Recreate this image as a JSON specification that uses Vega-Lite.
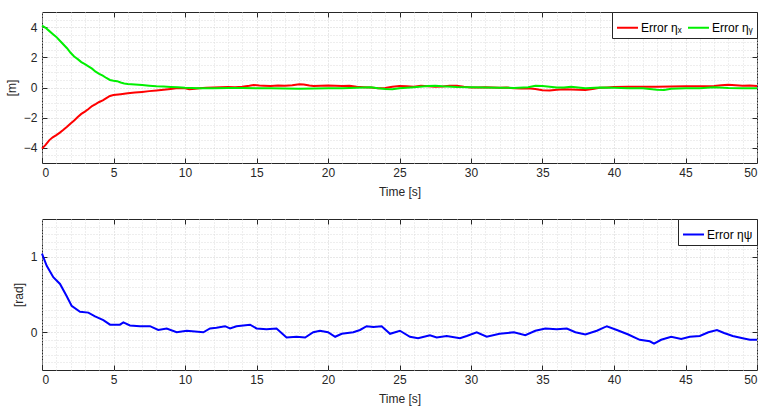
{
  "$schema": "https://vega.github.io/schema/vega-lite/v6.json",
  "background": "white",
  "padding": {"left": 4, "top": 11, "right": 7, "bottom": 5},
  "config": {
    "font": "Liberation Sans",
    "view": {"stroke": "#262626", "strokeWidth": 1},
    "axis": {"labelFont": "Liberation Sans", "labelFontSize": 12, "labelColor": "#262626", "titleFont": "Liberation Sans", "titleFontSize": 12, "titleFontWeight": "normal", "titleColor": "#262626", "domainColor": "#262626", "tickColor": "#262626"},
    "legend": {"orient": "top-right", "offset": 0, "direction": "horizontal", "fillColor": "white", "strokeColor": "#262626", "padding": 4, "symbolType": "stroke", "symbolStrokeWidth": 2, "symbolSize": 440, "labelFont": "Liberation Sans", "labelFontSize": 12, "labelColor": "#000000", "labelOffset": 2, "columnPadding": 2, "cornerRadius": 0, "title": null},
    "concat": {"spacing": 20}
  },
  "datasets": {
    "xy": [
      {"t":0,"s":"Error ηₓ","v":-4.05},{"t":0.25,"s":"Error ηₓ","v":-3.8},{"t":0.5,"s":"Error ηₓ","v":-3.5},{"t":0.75,"s":"Error ηₓ","v":-3.3},{"t":1,"s":"Error ηₓ","v":-3.15},{"t":1.25,"s":"Error ηₓ","v":-2.99},{"t":1.5,"s":"Error ηₓ","v":-2.8},{"t":1.75,"s":"Error ηₓ","v":-2.6},{"t":2,"s":"Error ηₓ","v":-2.38},{"t":2.25,"s":"Error ηₓ","v":-2.18},{"t":2.5,"s":"Error ηₓ","v":-1.95},{"t":2.75,"s":"Error ηₓ","v":-1.75},{"t":3,"s":"Error ηₓ","v":-1.6},{"t":3.25,"s":"Error ηₓ","v":-1.42},{"t":3.5,"s":"Error ηₓ","v":-1.23},{"t":3.75,"s":"Error ηₓ","v":-1.1},{"t":4,"s":"Error ηₓ","v":-0.96},{"t":4.25,"s":"Error ηₓ","v":-0.85},{"t":4.5,"s":"Error ηₓ","v":-0.7},{"t":4.75,"s":"Error ηₓ","v":-0.56},{"t":5,"s":"Error ηₓ","v":-0.5},{"t":5.5,"s":"Error ηₓ","v":-0.44},{"t":6,"s":"Error ηₓ","v":-0.38},{"t":6.5,"s":"Error ηₓ","v":-0.33},{"t":7,"s":"Error ηₓ","v":-0.29},{"t":7.5,"s":"Error ηₓ","v":-0.24},{"t":8,"s":"Error ηₓ","v":-0.2},{"t":8.5,"s":"Error ηₓ","v":-0.15},{"t":9,"s":"Error ηₓ","v":-0.1},{"t":9.5,"s":"Error ηₓ","v":-0.04},{"t":10,"s":"Error ηₓ","v":-0.05},{"t":10.3,"s":"Error ηₓ","v":-0.12},{"t":10.7,"s":"Error ηₓ","v":-0.08},{"t":11,"s":"Error ηₓ","v":-0.05},{"t":11.5,"s":"Error ηₓ","v":-0.02},{"t":12,"s":"Error ηₓ","v":0},{"t":12.5,"s":"Error ηₓ","v":0.02},{"t":13,"s":"Error ηₓ","v":0.03},{"t":13.5,"s":"Error ηₓ","v":0.02},{"t":14,"s":"Error ηₓ","v":0.05},{"t":14.5,"s":"Error ηₓ","v":0.12},{"t":14.8,"s":"Error ηₓ","v":0.17},{"t":15.2,"s":"Error ηₓ","v":0.13},{"t":15.5,"s":"Error ηₓ","v":0.12},{"t":16,"s":"Error ηₓ","v":0.1},{"t":16.5,"s":"Error ηₓ","v":0.13},{"t":17,"s":"Error ηₓ","v":0.12},{"t":17.5,"s":"Error ηₓ","v":0.15},{"t":18,"s":"Error ηₓ","v":0.22},{"t":18.3,"s":"Error ηₓ","v":0.2},{"t":18.7,"s":"Error ηₓ","v":0.13},{"t":19,"s":"Error ηₓ","v":0.1},{"t":19.5,"s":"Error ηₓ","v":0.12},{"t":20,"s":"Error ηₓ","v":0.14},{"t":20.5,"s":"Error ηₓ","v":0.12},{"t":21,"s":"Error ηₓ","v":0.1},{"t":21.5,"s":"Error ηₓ","v":0.11},{"t":22,"s":"Error ηₓ","v":0.05},{"t":22.5,"s":"Error ηₓ","v":0.02},{"t":23,"s":"Error ηₓ","v":0},{"t":23.5,"s":"Error ηₓ","v":-0.05},{"t":24,"s":"Error ηₓ","v":-0.04},{"t":24.5,"s":"Error ηₓ","v":0.05},{"t":25,"s":"Error ηₓ","v":0.1},{"t":25.5,"s":"Error ηₓ","v":0.08},{"t":26,"s":"Error ηₓ","v":0.05},{"t":26.5,"s":"Error ηₓ","v":0.12},{"t":27,"s":"Error ηₓ","v":0.08},{"t":27.5,"s":"Error ηₓ","v":0.05},{"t":28,"s":"Error ηₓ","v":0.06},{"t":28.5,"s":"Error ηₓ","v":0.12},{"t":29,"s":"Error ηₓ","v":0.12},{"t":29.5,"s":"Error ηₓ","v":0.05},{"t":30,"s":"Error ηₓ","v":0},{"t":30.5,"s":"Error ηₓ","v":0},{"t":31,"s":"Error ηₓ","v":0.02},{"t":31.5,"s":"Error ηₓ","v":0},{"t":32,"s":"Error ηₓ","v":-0.02},{"t":32.5,"s":"Error ηₓ","v":0},{"t":33,"s":"Error ηₓ","v":-0.05},{"t":33.5,"s":"Error ηₓ","v":-0.06},{"t":34,"s":"Error ηₓ","v":-0.05},{"t":34.5,"s":"Error ηₓ","v":-0.1},{"t":35,"s":"Error ηₓ","v":-0.18},{"t":35.5,"s":"Error ηₓ","v":-0.2},{"t":36,"s":"Error ηₓ","v":-0.15},{"t":36.5,"s":"Error ηₓ","v":-0.12},{"t":37,"s":"Error ηₓ","v":-0.14},{"t":37.5,"s":"Error ηₓ","v":-0.15},{"t":38,"s":"Error ηₓ","v":-0.17},{"t":38.5,"s":"Error ηₓ","v":-0.1},{"t":39,"s":"Error ηₓ","v":-0.02},{"t":39.5,"s":"Error ηₓ","v":0},{"t":40,"s":"Error ηₓ","v":0.03},{"t":41,"s":"Error ηₓ","v":0.05},{"t":42,"s":"Error ηₓ","v":0.05},{"t":43,"s":"Error ηₓ","v":0.05},{"t":44,"s":"Error ηₓ","v":0.06},{"t":45,"s":"Error ηₓ","v":0.08},{"t":46,"s":"Error ηₓ","v":0.08},{"t":47,"s":"Error ηₓ","v":0.1},{"t":47.5,"s":"Error ηₓ","v":0.15},{"t":48,"s":"Error ηₓ","v":0.18},{"t":48.5,"s":"Error ηₓ","v":0.15},{"t":49,"s":"Error ηₓ","v":0.12},{"t":49.5,"s":"Error ηₓ","v":0.14},{"t":50,"s":"Error ηₓ","v":0.1},
      {"t":0,"s":"Error ηᵧ","v":4.1},{"t":0.25,"s":"Error ηᵧ","v":3.95},{"t":0.5,"s":"Error ηᵧ","v":3.75},{"t":0.75,"s":"Error ηᵧ","v":3.55},{"t":1,"s":"Error ηᵧ","v":3.35},{"t":1.25,"s":"Error ηᵧ","v":3.1},{"t":1.5,"s":"Error ηᵧ","v":2.85},{"t":1.75,"s":"Error ηᵧ","v":2.6},{"t":2,"s":"Error ηᵧ","v":2.3},{"t":2.25,"s":"Error ηᵧ","v":2.05},{"t":2.5,"s":"Error ηᵧ","v":1.88},{"t":2.75,"s":"Error ηᵧ","v":1.68},{"t":3,"s":"Error ηᵧ","v":1.55},{"t":3.25,"s":"Error ηᵧ","v":1.4},{"t":3.5,"s":"Error ηᵧ","v":1.25},{"t":3.75,"s":"Error ηᵧ","v":1.05},{"t":4,"s":"Error ηᵧ","v":0.9},{"t":4.25,"s":"Error ηᵧ","v":0.78},{"t":4.5,"s":"Error ηᵧ","v":0.63},{"t":4.75,"s":"Error ηᵧ","v":0.5},{"t":5,"s":"Error ηᵧ","v":0.45},{"t":5.25,"s":"Error ηᵧ","v":0.42},{"t":5.5,"s":"Error ηᵧ","v":0.33},{"t":5.75,"s":"Error ηᵧ","v":0.27},{"t":6,"s":"Error ηᵧ","v":0.23},{"t":6.5,"s":"Error ηᵧ","v":0.2},{"t":7,"s":"Error ηᵧ","v":0.16},{"t":7.5,"s":"Error ηᵧ","v":0.12},{"t":8,"s":"Error ηᵧ","v":0.08},{"t":8.5,"s":"Error ηᵧ","v":0.06},{"t":9,"s":"Error ηᵧ","v":0.04},{"t":9.5,"s":"Error ηᵧ","v":0.02},{"t":10,"s":"Error ηᵧ","v":-0.02},{"t":10.5,"s":"Error ηᵧ","v":-0.03},{"t":11,"s":"Error ηᵧ","v":-0.05},{"t":12,"s":"Error ηᵧ","v":-0.05},{"t":13,"s":"Error ηᵧ","v":-0.04},{"t":14,"s":"Error ηᵧ","v":-0.03},{"t":15,"s":"Error ηᵧ","v":-0.05},{"t":16,"s":"Error ηᵧ","v":-0.05},{"t":17,"s":"Error ηᵧ","v":-0.07},{"t":18,"s":"Error ηᵧ","v":-0.08},{"t":19,"s":"Error ηᵧ","v":-0.07},{"t":20,"s":"Error ηᵧ","v":-0.05},{"t":21,"s":"Error ηᵧ","v":-0.05},{"t":22,"s":"Error ηᵧ","v":-0.02},{"t":23,"s":"Error ηᵧ","v":0.02},{"t":23.5,"s":"Error ηᵧ","v":-0.05},{"t":24,"s":"Error ηᵧ","v":-0.1},{"t":24.5,"s":"Error ηᵧ","v":-0.12},{"t":25,"s":"Error ηᵧ","v":-0.05},{"t":26,"s":"Error ηᵧ","v":0.02},{"t":27,"s":"Error ηᵧ","v":0.1},{"t":27.5,"s":"Error ηᵧ","v":0.12},{"t":28,"s":"Error ηᵧ","v":0.08},{"t":29,"s":"Error ηᵧ","v":0.03},{"t":30,"s":"Error ηᵧ","v":0.02},{"t":31,"s":"Error ηᵧ","v":0},{"t":32,"s":"Error ηᵧ","v":-0.01},{"t":33,"s":"Error ηᵧ","v":-0.03},{"t":34,"s":"Error ηᵧ","v":0.02},{"t":34.5,"s":"Error ηᵧ","v":0.12},{"t":35,"s":"Error ηᵧ","v":0.1},{"t":35.5,"s":"Error ηᵧ","v":0.05},{"t":36,"s":"Error ηᵧ","v":0},{"t":36.5,"s":"Error ηᵧ","v":0},{"t":37,"s":"Error ηᵧ","v":0.05},{"t":38,"s":"Error ηᵧ","v":-0.05},{"t":39,"s":"Error ηᵧ","v":0},{"t":40,"s":"Error ηᵧ","v":-0.02},{"t":41,"s":"Error ηᵧ","v":-0.05},{"t":42,"s":"Error ηᵧ","v":-0.05},{"t":43,"s":"Error ηᵧ","v":-0.15},{"t":43.5,"s":"Error ηᵧ","v":-0.17},{"t":44,"s":"Error ηᵧ","v":-0.08},{"t":45,"s":"Error ηᵧ","v":-0.05},{"t":46,"s":"Error ηᵧ","v":-0.05},{"t":47,"s":"Error ηᵧ","v":0.02},{"t":48,"s":"Error ηᵧ","v":-0.03},{"t":49,"s":"Error ηᵧ","v":-0.05},{"t":50,"s":"Error ηᵧ","v":-0.05}
    ],
    "psi": [
      {"t":0,"s":"Error ηψ","v":1.04},{"t":0.33,"s":"Error ηψ","v":0.88},{"t":0.79,"s":"Error ηψ","v":0.73},{"t":1.26,"s":"Error ηψ","v":0.64},{"t":1.72,"s":"Error ηψ","v":0.48},{"t":2.07,"s":"Error ηψ","v":0.35},{"t":2.66,"s":"Error ηψ","v":0.27},{"t":3.24,"s":"Error ηψ","v":0.26},{"t":3.71,"s":"Error ηψ","v":0.21},{"t":4.29,"s":"Error ηψ","v":0.16},{"t":4.76,"s":"Error ηψ","v":0.1},{"t":5.45,"s":"Error ηψ","v":0.1},{"t":5.69,"s":"Error ηψ","v":0.13},{"t":6.15,"s":"Error ηψ","v":0.09},{"t":6.85,"s":"Error ηψ","v":0.08},{"t":7.55,"s":"Error ηψ","v":0.08},{"t":8.13,"s":"Error ηψ","v":0.03},{"t":8.72,"s":"Error ηψ","v":0.05},{"t":9.42,"s":"Error ηψ","v":0},{"t":10.12,"s":"Error ηψ","v":0.02},{"t":11.28,"s":"Error ηψ","v":0},{"t":11.75,"s":"Error ηψ","v":0.05},{"t":12.2,"s":"Error ηψ","v":0.06},{"t":12.8,"s":"Error ηψ","v":0.08},{"t":13.15,"s":"Error ηψ","v":0.05},{"t":13.6,"s":"Error ηψ","v":0.08},{"t":14.55,"s":"Error ηψ","v":0.1},{"t":15,"s":"Error ηψ","v":0.05},{"t":15.7,"s":"Error ηψ","v":0.04},{"t":16.4,"s":"Error ηψ","v":0.05},{"t":17.1,"s":"Error ηψ","v":-0.07},{"t":17.8,"s":"Error ηψ","v":-0.06},{"t":18.4,"s":"Error ηψ","v":-0.07},{"t":18.97,"s":"Error ηψ","v":0},{"t":19.44,"s":"Error ηψ","v":0.02},{"t":20,"s":"Error ηψ","v":0},{"t":20.5,"s":"Error ηψ","v":-0.06},{"t":20.96,"s":"Error ηψ","v":-0.02},{"t":21.77,"s":"Error ηψ","v":0},{"t":22.24,"s":"Error ηψ","v":0.03},{"t":22.7,"s":"Error ηψ","v":0.08},{"t":23.17,"s":"Error ηψ","v":0.07},{"t":23.75,"s":"Error ηψ","v":0.08},{"t":24.34,"s":"Error ηψ","v":-0.02},{"t":25.03,"s":"Error ηψ","v":0.02},{"t":25.73,"s":"Error ηψ","v":-0.06},{"t":26.3,"s":"Error ηψ","v":-0.08},{"t":27.13,"s":"Error ηψ","v":-0.04},{"t":27.6,"s":"Error ηψ","v":-0.07},{"t":28.3,"s":"Error ηψ","v":-0.05},{"t":29.23,"s":"Error ηψ","v":-0.08},{"t":29.7,"s":"Error ηψ","v":-0.05},{"t":30.4,"s":"Error ηψ","v":0},{"t":31.1,"s":"Error ηψ","v":-0.06},{"t":32,"s":"Error ηψ","v":-0.02},{"t":33,"s":"Error ηψ","v":0},{"t":33.8,"s":"Error ηψ","v":-0.04},{"t":34.5,"s":"Error ηψ","v":0.02},{"t":35.2,"s":"Error ηψ","v":0.05},{"t":36,"s":"Error ηψ","v":0.04},{"t":36.7,"s":"Error ηψ","v":0.05},{"t":37.3,"s":"Error ηψ","v":0},{"t":38,"s":"Error ηψ","v":-0.03},{"t":38.8,"s":"Error ηψ","v":0.02},{"t":39.5,"s":"Error ηψ","v":0.08},{"t":40.2,"s":"Error ηψ","v":0.03},{"t":41,"s":"Error ηψ","v":-0.03},{"t":41.8,"s":"Error ηψ","v":-0.1},{"t":42.5,"s":"Error ηψ","v":-0.12},{"t":42.8,"s":"Error ηψ","v":-0.15},{"t":43.3,"s":"Error ηψ","v":-0.1},{"t":44,"s":"Error ηψ","v":-0.06},{"t":44.7,"s":"Error ηψ","v":-0.09},{"t":45.3,"s":"Error ηψ","v":-0.06},{"t":46,"s":"Error ηψ","v":-0.05},{"t":46.6,"s":"Error ηψ","v":0},{"t":47.2,"s":"Error ηψ","v":0.03},{"t":47.7,"s":"Error ηψ","v":-0.01},{"t":48.3,"s":"Error ηψ","v":-0.05},{"t":49,"s":"Error ηψ","v":-0.08},{"t":49.5,"s":"Error ηψ","v":-0.1},{"t":50,"s":"Error ηψ","v":-0.1}
    ]
  },
  "vconcat": [
    {
      "width": 715,
      "height": 151,
      "data": {"name": "xy"},
      "resolve": {"axis": {"x": "independent", "y": "independent"}},
      "layer": [
        {
          "mark": {"type": "line", "opacity": 0},
          "encoding": {
            "x": {"field": "t", "type": "quantitative", "scale": {"domain": [0, 50], "nice": false, "zero": false},
              "axis": {"orient": "top", "title": null, "labels": false, "ticks": false, "domain": false, "grid": true, "gridColor": "#dcdcdc", "gridDash": [1, 2], "values": [1,2,3,4,6,7,8,9,11,12,13,14,16,17,18,19,21,22,23,24,26,27,28,29,31,32,33,34,36,37,38,39,41,42,43,44,46,47,48,49]}},
            "y": {"field": "v", "type": "quantitative", "scale": {"domain": [-5, 5], "nice": false},
              "axis": {"orient": "right", "title": null, "labels": false, "ticks": false, "domain": false, "grid": true, "gridColor": "#dcdcdc", "gridDash": [1, 2], "values": [-4.5,-3.5,-3,-2.5,-1.5,-1,-0.5,0.5,1,1.5,2.5,3,3.5,4.5]}},
            "detail": {"field": "s"}
          }
        },
        {
          "mark": {"type": "line", "opacity": 0},
          "encoding": {
            "x": {"field": "t", "type": "quantitative", "scale": {"domain": [0, 50], "nice": false, "zero": false},
              "axis": {"orient": "top", "title": null, "labels": false, "grid": false, "domain": false, "tickSize": -5, "values": [5,10,15,20,25,30,35,40,45]}},
            "y": {"field": "v", "type": "quantitative", "scale": {"domain": [-5, 5], "nice": false},
              "axis": {"orient": "right", "title": null, "labels": false, "grid": false, "domain": false, "tickSize": -5, "values": [-4,-2,0,2,4]}},
            "detail": {"field": "s"}
          }
        },
        {
          "mark": {"type": "line", "strokeWidth": 2},
          "encoding": {
            "x": {"field": "t", "type": "quantitative", "scale": {"domain": [0, 50], "nice": false, "zero": false},
              "axis": {"orient": "bottom", "title": "Time [s]", "values": [0,5,10,15,20,25,30,35,40,45,50], "grid": true, "gridColor": "#cfcfcf", "gridDash": [1, 2], "tickSize": -5, "labelPadding": 9, "titlePadding": 8, "domain": false}},
            "y": {"field": "v", "type": "quantitative", "scale": {"domain": [-5, 5], "nice": false},
              "axis": {"orient": "left", "title": "[m]", "values": [-4,-2,0,2,4], "grid": true, "gridColor": "#cfcfcf", "gridDash": [1, 2], "tickSize": -5, "labelPadding": 10, "titlePadding": 5, "domain": false}},
            "color": {"field": "s", "type": "nominal", "scale": {"domain": ["Error ηₓ", "Error ηᵧ"], "range": ["#ff0000", "#00f000"]}, "legend": {"orient": "top-right"}}
          }
        }
      ]
    },
    {
      "width": 715,
      "height": 151,
      "data": {"name": "psi"},
      "resolve": {"axis": {"x": "independent", "y": "independent"}},
      "layer": [
        {
          "mark": {"type": "line", "opacity": 0},
          "encoding": {
            "x": {"field": "t", "type": "quantitative", "scale": {"domain": [0, 50], "nice": false, "zero": false},
              "axis": {"orient": "top", "title": null, "labels": false, "ticks": false, "domain": false, "grid": true, "gridColor": "#dcdcdc", "gridDash": [1, 2], "values": [1,2,3,4,6,7,8,9,11,12,13,14,16,17,18,19,21,22,23,24,26,27,28,29,31,32,33,34,36,37,38,39,41,42,43,44,46,47,48,49]}},
            "y": {"field": "v", "type": "quantitative", "scale": {"domain": [-0.5, 1.5], "nice": false},
              "axis": {"orient": "right", "title": null, "labels": false, "ticks": false, "domain": false, "grid": true, "gridColor": "#dcdcdc", "gridDash": [1, 2], "values": [-0.4,-0.3,-0.2,-0.1,0.1,0.2,0.3,0.4,0.5,0.6,0.7,0.8,0.9,1.1,1.2,1.3,1.4]}}
          }
        },
        {
          "mark": {"type": "line", "opacity": 0},
          "encoding": {
            "x": {"field": "t", "type": "quantitative", "scale": {"domain": [0, 50], "nice": false, "zero": false},
              "axis": {"orient": "top", "title": null, "labels": false, "grid": false, "domain": false, "tickSize": -5, "values": [5,10,15,20,25,30,35,40,45]}},
            "y": {"field": "v", "type": "quantitative", "scale": {"domain": [-0.5, 1.5], "nice": false},
              "axis": {"orient": "right", "title": null, "labels": false, "grid": false, "domain": false, "tickSize": -5, "values": [0, 1]}}
          }
        },
        {
          "mark": {"type": "line", "strokeWidth": 2},
          "encoding": {
            "x": {"field": "t", "type": "quantitative", "scale": {"domain": [0, 50], "nice": false, "zero": false},
              "axis": {"orient": "bottom", "title": "Time [s]", "values": [0,5,10,15,20,25,30,35,40,45,50], "grid": true, "gridColor": "#cfcfcf", "gridDash": [1, 2], "tickSize": -5, "labelPadding": 9, "titlePadding": 8, "domain": false}},
            "y": {"field": "v", "type": "quantitative", "scale": {"domain": [-0.5, 1.5], "nice": false},
              "axis": {"orient": "left", "title": "[rad]", "values": [0, 1], "grid": true, "gridColor": "#cfcfcf", "gridDash": [1, 2], "tickSize": -5, "labelPadding": 10, "titlePadding": 5, "domain": false}},
            "color": {"field": "s", "type": "nominal", "scale": {"domain": ["Error ηψ"], "range": ["#0000ff"]}, "legend": {"orient": "top-right"}}
          }
        }
      ]
    }
  ],
  "resolve": {"scale": {"color": "independent"}, "legend": {"color": "independent"}}
}
